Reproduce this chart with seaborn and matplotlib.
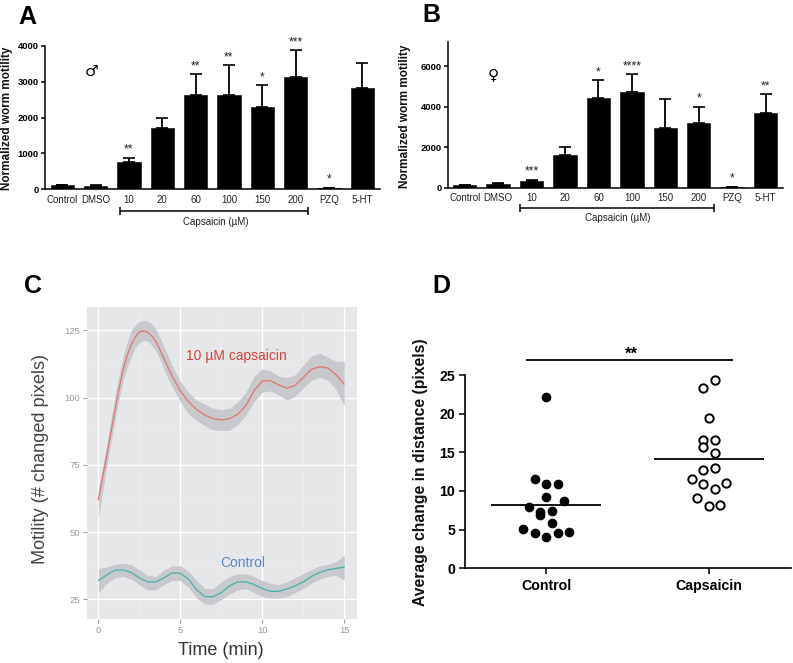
import matplotlib
matplotlib.use("Agg")
import matplotlib.pyplot as plt
from matplotlib.lines import Line2D
import numpy as np
import pandas as pd
import seaborn as sns

sns.set_style("ticks")
plt.rcParams['font.family'] = ['Liberation Sans', 'DejaVu Sans']
plt.rcParams['text.color'] = 'black'
plt.rcParams['xtick.labelcolor'] = 'black'
plt.rcParams['ytick.labelcolor'] = 'black'
plt.rcParams['xtick.color'] = 'black'
plt.rcParams['ytick.color'] = 'black'

W, H = 793, 663

# Panels A, B
doses = ["Control", "DMSO", "10", "20", "60", "100", "150", "200", "PZQ", "5-HT"]
male_mean = [120, 100, 752, 1717, 2635, 2617, 2300, 3137, 30, 2812]
male_top = [125, 130, 880, 1986, 3210, 3460, 2895, 3870, 45, 3508]
male_sig = ["", "", "**", "", "**", "**", "*", "***", "*", ""]
female_mean = [110, 170, 330, 1615, 4434, 4714, 2934, 3198, 40, 3676]
female_top = [115, 210, 395, 2010, 5307, 5604, 4368, 3989, 50, 4615]
female_sig = ["", "", "***", "", "*", "****", "", "*", "*", "**"]

# Panel C
caps_time = [0, .5, 1, 1.25, 1.5, 1.75, 2, 2.25, 2.5, 2.75, 3, 3.25, 3.5, 3.75, 4, 4.5, 5, 5.5, 6, 6.5, 7, 7.5,
             8, 8.5, 9, 9.5, 10, 10.5, 11, 11.5, 12, 12.5, 13, 13.5, 14, 14.5, 15]
caps_mean = [62, 78, 95, 103, 110, 115.5, 119.5, 122.5, 124.3, 124.8, 124.3, 123, 121, 118, 114.5, 108, 102.5,
             98.5, 95.5, 93.5, 92.2, 91.7, 92.2, 93.8, 97, 102.5, 106.2, 106.3, 104.7, 103.5, 104.5, 107.5,
             110.5, 111.5, 111, 108.5, 105]
caps_up = [66, 82, 100, 108, 115, 120.5, 125, 127, 128.3, 128.7, 128.5, 127.5, 125.5, 122.5, 119, 112, 106,
           102, 99, 97.5, 96, 95.5, 96, 98.5, 102, 108, 110.7, 110, 108, 107.5, 108.5, 112, 115.5, 116.5,
           115, 113.5, 113.5]
caps_lo = [55, 74, 91, 99, 106, 111, 115, 118.5, 120.5, 121.3, 121, 119.5, 117.5, 114.5, 110.5, 104, 98.5,
           94, 91.5, 89.5, 88, 87.8, 87.8, 90, 93.5, 98.5, 102, 102.5, 101, 99, 100.5, 103.5, 106.5, 107.5,
           106.5, 103, 97]
ctrl_time = [0, .5, 1, 1.5, 2, 2.5, 3, 3.5, 4, 4.5, 5, 5.5, 6, 6.5, 7, 7.5, 8, 8.5, 9, 9.5,
             10, 10.5, 11, 11.5, 12, 12.5, 13, 13.5, 14, 14.5, 15]
ctrl_mean = [32, 34, 35.8, 36, 35, 33, 31.5, 31.5, 33, 34.8, 34.7, 32.5, 28.5, 26, 26, 27.5,
             30, 31.5, 31.5, 30.5, 29, 28, 28, 28.8, 30, 31.5, 33.5, 35, 36, 36.5, 37]
ctrl_up = [36.5, 37, 38, 38.5, 38, 36, 34, 33.5, 36, 37.5, 37.5, 35.5, 32, 29, 29, 31.5,
           33.5, 34.5, 34.5, 33.5, 32, 31, 30.5, 31.5, 33, 34.5, 36, 37.5, 38, 39, 41.5]
ctrl_lo = [27.5, 31, 33, 33.5, 32.5, 30.5, 28.5, 28.5, 30.5, 32, 32, 29.5, 25.5, 23.2, 23.2, 25,
           27, 28.5, 29, 27.5, 26, 25.5, 25.5, 26, 27.5, 29, 31, 32.5, 33.5, 34, 32]

# Panel D
d_groups = ["Control", "Capsaicin"]
d_ctrl = [22.2, 11.55, 10.9, 10.9, 9.2, 8.7, 7.95, 7.3, 7.4, 6.85, 5.8, 5.05, 4.6, 4.55, 4.65, 4.0]
d_ctrl_jit = [0, -.072, 0, .072, 0, .107, -.107, -.037, .037, -.037, .037, -.144, -.072, .072, .14, 0]
d_caps = [24.3, 23.3, 19.5, 16.55, 16.6, 15.65, 14.95, 13.0, 12.7, 11.5, 11.0, 10.9, 10.2, 9.15, 8.2, 8.0]
d_caps_jit = [.037, -.037, 0, -.037, .037, -.037, .037, .037, -.037, -.105, .109, -.037, .037, -.07, .072, 0]
d_means = [8.25, 14.15]

fig = plt.figure(figsize=(W / 100, H / 100), dpi=100, facecolor="white")


def axes_px(x0, y0, x1, y1):
    """Axes from pixel box (y measured from the top of the image)."""
    return fig.add_axes([x0 / W, 1 - y1 / H, (x1 - x0) / W, (y1 - y0) / H])


def line_px(xs, ys, lw=1.1, color="black"):
    fig.add_artist(Line2D([x / W for x in xs], [1 - y / H for y in ys], lw=lw, color=color,
                          solid_capstyle="butt"))


def text_px(x, y, s, **kw):
    kw.setdefault("ha", "center")
    kw.setdefault("va", "center")
    fig.text(x / W, 1 - y / H, s, **kw)


def bar_panel(box, xlim, ylim, yticks, means, tops, sigs, ylabel_xy, ylabel_size, bracket, label_xy,
              sym, sym_xy, sym_size):
    ax = axes_px(*box)
    df = pd.DataFrame({"dose": doses, "value": means})
    sns.barplot(data=df, x="dose", y="value", color="black", width=0.7, saturation=1,
                edgecolor="black", linewidth=0.4, ax=ax, zorder=3)
    pos = np.arange(len(doses))
    ax.errorbar(pos, means, yerr=[np.zeros(len(means)), np.array(tops) - np.array(means)], fmt="none",
                ecolor="black", elinewidth=1.3, capsize=4.2, capthick=1.2, zorder=2)
    for p, t, s in zip(pos, tops, sigs):
        if s:
            ax.annotate(s, (p, t), xytext=(0, 1.5), textcoords="offset points", ha="center", va="bottom",
                        fontsize=8.8, color="#222222")
    ax.set_xlim(*xlim)
    ax.set_ylim(*ylim)
    ax.set_yticks(yticks)
    ax.set_xlabel("")
    ax.set_ylabel("")
    ax.patch.set_alpha(0)
    ax.tick_params(axis="x", length=0, pad=4, labelsize=7, labelcolor="#222222")
    ax.tick_params(axis="y", length=3, width=1.1, pad=1.5, labelsize=6.8)
    for lab in ax.get_yticklabels():
        lab.set_fontweight("bold")
    sns.despine(ax=ax)
    for sp in ("left", "bottom"):
        ax.spines[sp].set_linewidth(1.1)
        ax.spines[sp].set_color("black")
    text_px(*ylabel_xy, "Normalized worm motility", rotation=90, fontsize=ylabel_size, fontweight="bold",
            color="#111111")
    bx0, bx1, by = bracket
    line_px([bx0, bx1], [by, by])
    line_px([bx0, bx0], [by - 4, by + 4])
    line_px([bx1, bx1], [by - 4, by + 4])
    text_px(*label_xy, "Capsaicin (µM)", fontsize=7, color="#222222")
    text_px(*sym_xy, sym, fontsize=sym_size, family="DejaVu Sans", fontweight="bold", color="black")
    return ax


bar_panel((45, 45.7, 380, 189.3), (-0.52, 9.53), (0, 4000), [0, 1000, 2000, 3000, 4000],
          male_mean, male_top, male_sig, (7.5, 118), 8.5, (120, 308, 211.3), (216, 221.7), "♂", (91.5, 71), 11)
bar_panel((448, 41.7, 783, 187.7), (-0.5, 9.52), (0, 7215), [0, 2000, 4000, 6000],
          female_mean, female_top, female_sig, (405, 116), 8.5, (519.7, 713.7, 208.3), (618, 218), "♀", (493.7, 74.7), 11)

# Panel C
axc = axes_px(86.7, 306.7, 356.7, 619)
axc.set_facecolor("#e6e7e9")
axc.grid(True, which="major", color="white", lw=1.0)
axc.set_xticks([2.5, 7.5, 12.5], minor=True)
axc.set_yticks([37.5, 62.5, 87.5, 112.5], minor=True)
axc.grid(True, which="minor", color="#eeeff0", lw=0.5)
axc.set_axisbelow(True)
axc.fill_between(caps_time, caps_lo, caps_up, color="#c7c9cc", lw=0, zorder=2)
axc.fill_between(ctrl_time, ctrl_lo, ctrl_up, color="#c7c9cc", lw=0, zorder=2)
sns.lineplot(x=caps_time, y=caps_mean, color="#e2736b", lw=0.9, ax=axc, zorder=3, errorbar=None)
sns.lineplot(x=ctrl_time, y=ctrl_mean, color="#45b0a8", lw=0.9, ax=axc, zorder=3, errorbar=None)
axc.set_xlim(-0.71, 15.76)
axc.set_ylim(17.7, 133.8)
axc.set_xticks([0, 5, 10, 15])
axc.set_yticks([25, 50, 75, 100, 125])
axc.tick_params(axis="both", which="major", length=3, width=0.7, color="#9a9a9a", labelcolor="#9a9a9a",
                labelsize=6.8, pad=2)
axc.tick_params(axis="both", which="minor", length=0)
for sp in axc.spines.values():
    sp.set_visible(False)
axc.text(8.4, 115.4, "10 µM capsaicin", color="#d9423a", fontsize=10, ha="center", va="center")
axc.text(8.83, 38.6, "Control", color="#5b86c4", fontsize=10, ha="center", va="center")
text_px(41, 459, "Motility (# changed pixels)", rotation=90, fontsize=13.1, color="#444444")
text_px(221, 650.5, "Time (min)", fontsize=13, color="#333333")

# Panel D
axd = axes_px(465, 375, 790.7, 568.3)
sns.scatterplot(x=np.array(d_ctrl_jit), y=d_ctrl, s=38, color="black", edgecolor="black", linewidth=0.8,
                ax=axd, zorder=3, clip_on=False)
sns.scatterplot(x=1 + np.array(d_caps_jit), y=d_caps, s=36, facecolor="white", edgecolor="black",
                linewidth=1.4, ax=axd, zorder=3, clip_on=False)
axd.hlines(d_means, [-.338, .662], [.338, 1.338], color="black", lw=1.3, zorder=4)
axd.set_xlim(-0.5, 1.505)
axd.set_ylim(0, 25)
axd.set_xticks([0, 1])
axd.set_xticklabels(d_groups)
axd.set_yticks([0, 5, 10, 15, 20, 25])
axd.patch.set_alpha(0)
axd.tick_params(axis="both", length=4, width=1.1, pad=3, labelsize=10.2)
axd.tick_params(axis="x", pad=4)
for lab in axd.get_xticklabels() + axd.get_yticklabels():
    lab.set_fontweight("bold")
sns.despine(ax=axd)
for sp in ("left", "bottom"):
    axd.spines[sp].set_linewidth(1.2)
    axd.spines[sp].set_color("black")
text_px(420.5, 472, "Average change in distance (pixels)", rotation=90, fontsize=11.3, fontweight="bold",
        color="#111111")
line_px([526, 733], [360.3, 360.3], lw=1.3)
text_px(631, 354, "**", fontsize=12, fontweight="bold")

# Panel letters
for x, y, s in [(18, 24, "A"), (422, 22, "B"), (24, 293, "C"), (432, 293, "D")]:
    text_px(x, y, s, ha="left", va="baseline", fontsize=18, fontweight="bold", color="black")

fig.savefig("out.png", dpi=100)
